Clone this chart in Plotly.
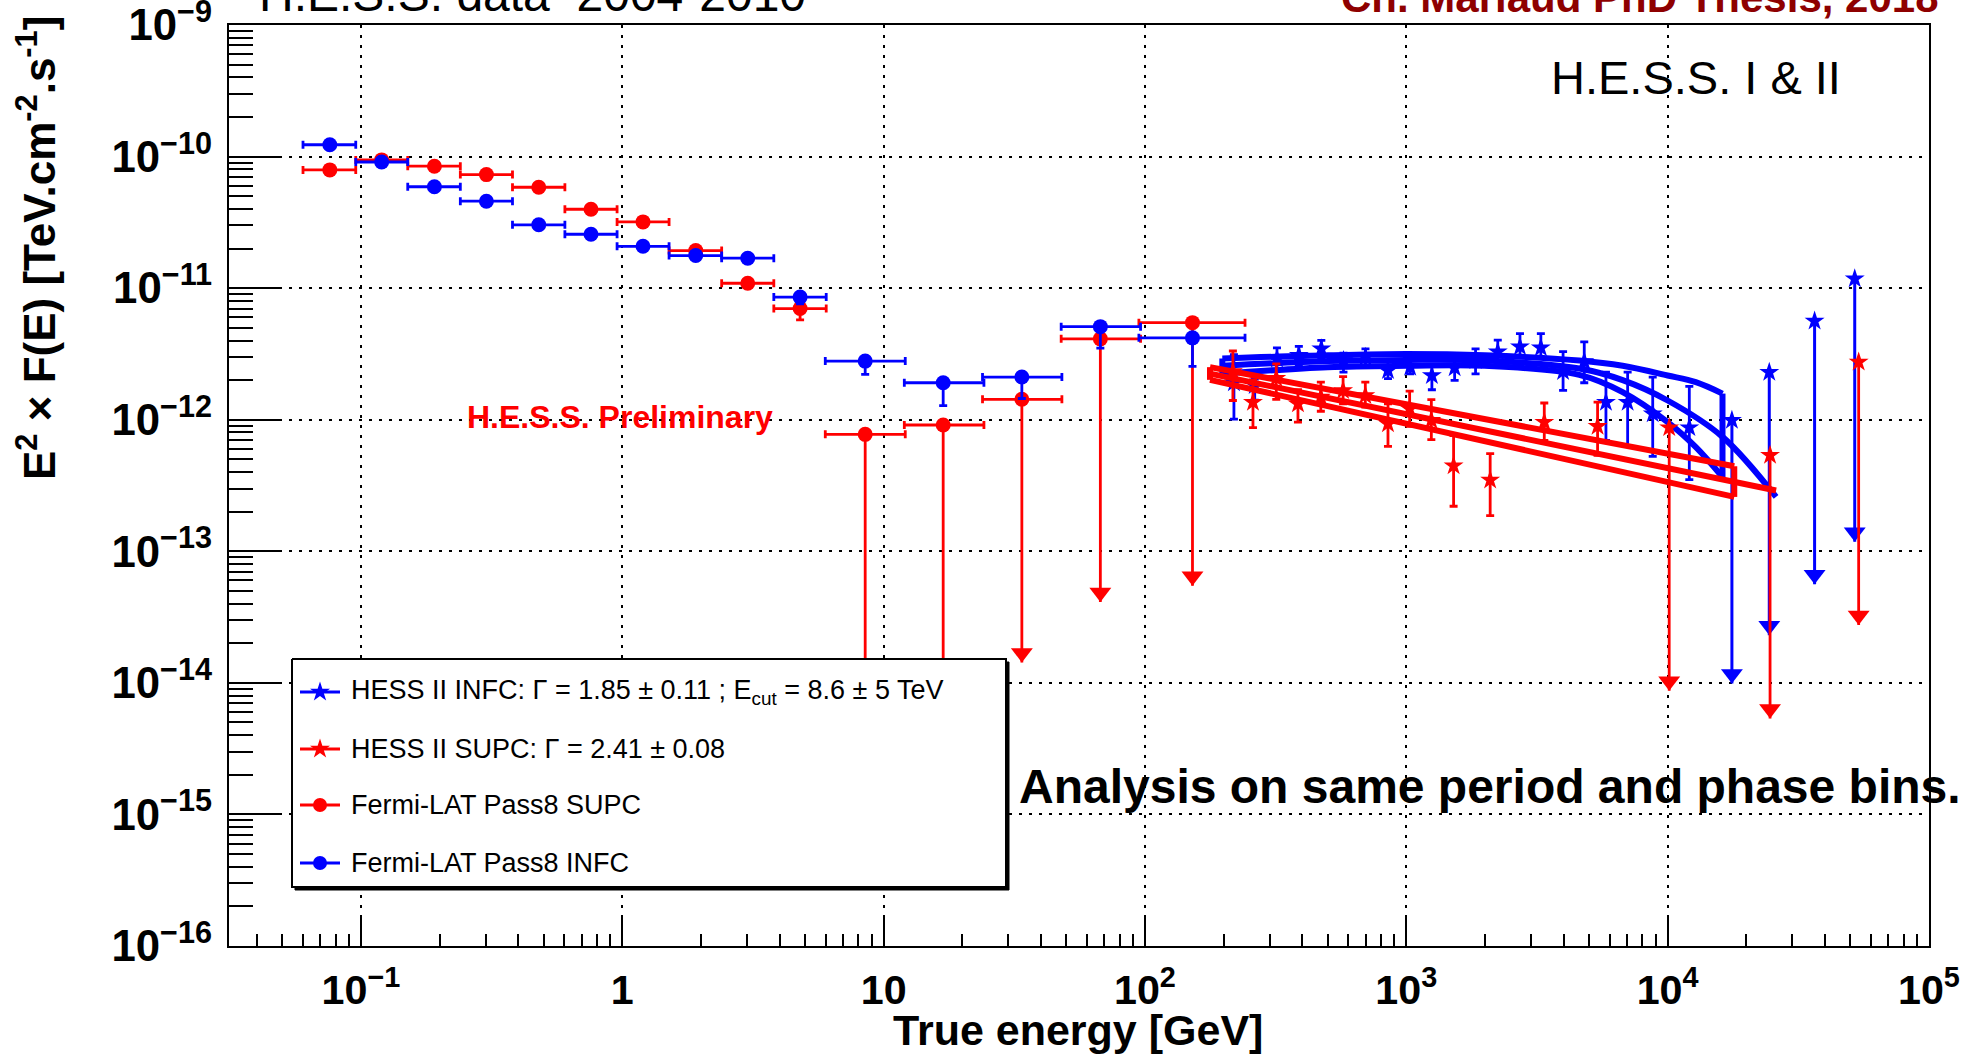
import plotly.graph_objects as go

# ---------------- data ----------------
# Fermi-LAT Pass8 (energies in GeV, E^2 F in TeV cm^-2 s^-1)
fermi_E    = [0.076, 0.120, 0.191, 0.302, 0.479, 0.759, 1.20, 1.91, 3.02, 4.79, 8.5, 16.9, 33.8, 67.5, 152.0]
fermi_E_lo = [0.060, 0.0955, 0.151, 0.240, 0.380, 0.603, 0.955, 1.51, 2.40, 3.80, 5.98, 12.0, 23.9, 47.8, 94.8]
fermi_E_hi = [0.0955, 0.151, 0.240, 0.380, 0.603, 0.955, 1.51, 2.40, 3.80, 6.03, 12.1, 24.2, 48.1, 96.2, 241.5]

fermi_infc_flux   = [1.23e-10, 9.1e-11, 5.9e-11, 4.58e-11, 3.03e-11, 2.57e-11, 2.08e-11, 1.77e-11, 1.69e-11,
                     8.55e-12, 2.79e-12, 1.91e-12, 2.11e-12, 5.1e-12, 4.19e-12]
fermi_infc_err_lo = [4e-12, 3e-12, 2e-12, 1.5e-12, 1e-12, 9e-13, 8e-13, 7e-13, 8e-13,
                     9.6e-13, 5.8e-13, 6.3e-13, 6.6e-13, 1.6e-12, 1.65e-12]
fermi_infc_err_hi = [4e-12, 3e-12, 2e-12, 1.5e-12, 1e-12, 9e-13, 8e-13, 7e-13, 8e-13,
                     5e-13, 2e-13, 1.5e-13, 1.5e-13, 3e-13, 3e-13]

fermi_supc_flux   = [7.92e-11, 9.44e-11, 8.45e-11, 7.3e-11, 5.85e-11, 3.98e-11, 3.19e-11, 1.93e-11, 1.09e-11, 7.0e-12]
fermi_supc_err_lo = [3e-12, 3e-12, 2.5e-12, 2e-12, 1.7e-12, 1.3e-12, 1.1e-12, 8e-13, 6e-13, 1.25e-12]
fermi_supc_err_hi = [3e-12, 3e-12, 2.5e-12, 2e-12, 1.7e-12, 1.3e-12, 1.1e-12, 8e-13, 6e-13, 5e-13]
fermi_supc_ul     = [7.74e-13, 9.12e-13, 1.43e-12, 4.12e-12, 5.47e-12]   # upper limits at fermi_E[10:]

# HESS II INFC (blue stars)
hess_infc_E    = [219, 263, 320, 388, 473, 575, 698, 851, 1035, 1253, 1531, 1841, 2239, 2723, 3273,
                  3981, 4797, 5808, 7031, 8770, 12106]
hess_infc_flux = [1.91e-12, 1.82e-12, 2.90e-12, 3.09e-12, 3.47e-12, 2.82e-12, 2.99e-12, 2.37e-12, 2.51e-12,
                  2.17e-12, 2.48e-12, 2.82e-12, 3.29e-12, 3.59e-12, 3.52e-12, 2.33e-12, 2.77e-12, 1.36e-12,
                  1.36e-12, 1.11e-12, 8.71e-13]
hess_infc_hi   = [3.13e-12, 2.04e-12, 3.52e-12, 3.61e-12, 4.01e-12, 3.21e-12, 3.46e-12, 2.82e-12, 3.17e-12,
                  2.63e-12, 3.03e-12, 3.46e-12, 4.03e-12, 4.52e-12, 4.52e-12, 3.29e-12, 3.91e-12, 2.30e-12,
                  2.30e-12, 2.11e-12, 1.79e-12]
hess_infc_lo   = [1.01e-12, 1.41e-12, 2.34e-12, 2.59e-12, 2.90e-12, 2.30e-12, 2.51e-12, 2.05e-12, 2.23e-12,
                  1.69e-12, 1.99e-12, 2.23e-12, 2.69e-12, 3.02e-12, 2.93e-12, 1.67e-12, 1.91e-12, 6.97e-13,
                  6.31e-13, 5.27e-13, 3.50e-13]
hess_infc_ul_E    = [17620, 24490, 36510, 52000]
hess_infc_ul_flux = [9.89e-13, 2.30e-12, 5.62e-12, 1.18e-11]

# HESS II SUPC (red stars)
hess_supc_E    = [217, 259, 318, 385, 471, 573, 697, 851, 1030, 1247, 1517, 2094, 3373, 5395]
hess_supc_flux = [2.33e-12, 1.36e-12, 2.07e-12, 1.32e-12, 1.49e-12, 1.67e-12, 1.53e-12, 9.33e-13, 1.21e-12,
                  9.89e-13, 4.47e-13, 3.48e-13, 9.59e-13, 8.91e-13]
hess_supc_hi   = [3.33e-12, 2.01e-12, 2.66e-12, 1.69e-12, 1.93e-12, 2.13e-12, 1.93e-12, 1.32e-12, 1.65e-12,
                  1.42e-12, 7.59e-13, 5.52e-13, 1.34e-12, 1.36e-12]
hess_supc_lo   = [1.40e-12, 8.71e-13, 1.43e-12, 9.59e-13, 1.16e-12, 1.32e-12, 1.25e-12, 6.27e-13, 8.91e-13,
                  7.05e-13, 2.20e-13, 1.87e-13, 6.97e-13, 5.37e-13]
hess_supc_ul_E    = [10140, 24660, 53830]
hess_supc_ul_flux = [8.71e-13, 5.37e-13, 2.75e-12]

# Fitted spectra (butterfly edges + best fit)
infc_fit_up_E    = [197.7, 501, 1000, 1995, 4592, 6730, 10000, 12823, 16218]
infc_fit_up_F    = [2.92e-12, 3.09e-12, 3.16e-12, 3.09e-12, 2.82e-12, 2.57e-12, 2.17e-12, 1.93e-12, 1.58e-12]
infc_fit_mid_E   = [197.7, 501, 1000, 1995, 4592, 6730, 10000, 16218, 26002]
infc_fit_mid_F   = [2.57e-12, 2.79e-12, 2.85e-12, 2.82e-12, 2.45e-12, 2.0e-12, 1.40e-12, 7.41e-13, 2.59e-13]
infc_fit_low_E   = [197.7, 501, 1000, 1995, 4592, 6730, 10000, 12823, 16218]
infc_fit_low_F   = [2.24e-12, 2.51e-12, 2.57e-12, 2.57e-12, 2.19e-12, 1.62e-12, 9.59e-13, 6.19e-13, 3.67e-13]

supc_fit_up_E  = [177.4, 17989]
supc_fit_up_F  = [2.51e-12, 4.43e-13]
supc_fit_mid_E = [177.4, 26002]
supc_fit_mid_F = [2.24e-12, 2.90e-13]
supc_fit_low_E = [177.4, 17989]
supc_fit_low_F = [2.01e-12, 2.59e-13]

legend_labels = ["HESS II INFC: \u0393 = 1.85 \u00b1 0.11 ; E<sub>cut</sub> = 8.6 \u00b1 5 TeV",
                 "HESS II SUPC: \u0393 = 2.41 \u00b1 0.08",
                 "Fermi-LAT Pass8 SUPC",
                 "Fermi-LAT Pass8 INFC"]

# ---------------- style ----------------
BLUE = "#0000ff"
RED = "#ff0000"
FONT = "Liberation Sans, Arial, Helvetica, sans-serif"
W, H = 1981, 1058
PL, PR, PT, PB = 229, 1929, 25, 946
PX_PER_DEC_Y = (PB - PT) / 7.0
UL_FACTOR = 0.01
ARROW_SIZE = 19
ARROW_SHIFT = 10 ** ((ARROW_SIZE / 2) / PX_PER_DEC_Y)
CIRCLE_SIZE = 15
STAR_SIZE = 15
FIT_WIDTH = 6
ERR_W = 2.8


def xp(px):
    return (px - PL) / (PR - PL)


def yp(py):
    return (PB - py) / (PB - PT)


fig = go.Figure()


def add_points(E, F, e_minus, e_plus, color, symbol, size, ex_minus=None, ex_plus=None, cap=4):
    kw = {}
    if ex_minus is not None:
        kw["error_x"] = dict(type="data", symmetric=False, array=ex_plus, arrayminus=ex_minus,
                             color=color, thickness=ERR_W, width=4)
    fig.add_trace(go.Scatter(
        x=E, y=F, mode="markers",
        marker=dict(symbol=symbol, size=size, color=color, line=dict(width=0)),
        error_y=dict(type="data", symmetric=False, array=e_plus, arrayminus=e_minus,
                     color=color, thickness=ERR_W, width=cap),
        showlegend=False, hoverinfo="skip", **kw))


def add_ul(E, F, color, width):
    xs, ys = [], []
    for e, v in zip(E, F):
        xs += [e, e, None]
        ys += [v, v * UL_FACTOR, None]
    fig.add_trace(go.Scatter(x=xs, y=ys, mode="lines", line=dict(color=color, width=width),
                             showlegend=False, hoverinfo="skip"))
    fig.add_trace(go.Scatter(x=E, y=[v * UL_FACTOR * ARROW_SHIFT for v in F], mode="markers",
                             marker=dict(symbol="triangle-down", size=ARROW_SIZE, color=color,
                                         line=dict(width=0)),
                             showlegend=False, hoverinfo="skip"))


def add_curve(E, F, color, shape="linear", width=FIT_WIDTH):
    fig.add_trace(go.Scatter(x=E, y=F, mode="lines", line=dict(color=color, width=width, shape=shape),
                             showlegend=False, hoverinfo="skip"))


# HESS INFC
add_points(hess_infc_E, hess_infc_flux,
           [v - l for v, l in zip(hess_infc_flux, hess_infc_lo)],
           [h - v for v, h in zip(hess_infc_flux, hess_infc_hi)], BLUE, "star", STAR_SIZE)
fig.add_trace(go.Scatter(x=hess_infc_ul_E, y=hess_infc_ul_flux, mode="markers",
                         marker=dict(symbol="star", size=STAR_SIZE, color=BLUE), showlegend=False,
                         hoverinfo="skip"))
add_ul(hess_infc_ul_E, hess_infc_ul_flux, BLUE, 3)

# INFC fit
add_curve(infc_fit_up_E, infc_fit_up_F, BLUE, "spline")
add_curve(infc_fit_mid_E, infc_fit_mid_F, BLUE, "spline")
add_curve(infc_fit_low_E, infc_fit_low_F, BLUE, "spline")
add_curve([infc_fit_up_E[0], infc_fit_low_E[0]], [infc_fit_up_F[0], infc_fit_low_F[0]], BLUE)
add_curve([infc_fit_up_E[-1], infc_fit_low_E[-1]], [infc_fit_up_F[-1], infc_fit_low_F[-1]], BLUE)

# HESS SUPC
add_points(hess_supc_E, hess_supc_flux,
           [v - l for v, l in zip(hess_supc_flux, hess_supc_lo)],
           [h - v for v, h in zip(hess_supc_flux, hess_supc_hi)], RED, "star", STAR_SIZE)
fig.add_trace(go.Scatter(x=hess_supc_ul_E, y=hess_supc_ul_flux, mode="markers",
                         marker=dict(symbol="star", size=STAR_SIZE, color=RED), showlegend=False,
                         hoverinfo="skip"))
add_ul(hess_supc_ul_E, hess_supc_ul_flux, RED, 2.8)

# SUPC fit
add_curve(supc_fit_up_E, supc_fit_up_F, RED)
add_curve(supc_fit_mid_E, supc_fit_mid_F, RED)
add_curve(supc_fit_low_E, supc_fit_low_F, RED)
add_curve([supc_fit_up_E[0], supc_fit_low_E[0]], [supc_fit_up_F[0], supc_fit_low_F[0]], RED)
add_curve([supc_fit_up_E[-1], supc_fit_low_E[-1]], [supc_fit_up_F[-1], supc_fit_low_F[-1]], RED)

# Fermi SUPC
n_pts = len(fermi_supc_flux)
ex_minus = [e - lo for e, lo in zip(fermi_E, fermi_E_lo)]
ex_plus = [hi - e for e, hi in zip(fermi_E, fermi_E_hi)]
add_points(fermi_E[:n_pts], fermi_supc_flux, fermi_supc_err_lo, fermi_supc_err_hi, RED, "circle", CIRCLE_SIZE,
           ex_minus[:n_pts], ex_plus[:n_pts])
fig.add_trace(go.Scatter(x=fermi_E[n_pts:], y=fermi_supc_ul, mode="markers",
                         marker=dict(symbol="circle", size=CIRCLE_SIZE, color=RED),
                         error_x=dict(type="data", symmetric=False, array=ex_plus[n_pts:],
                                      arrayminus=ex_minus[n_pts:], color=RED, thickness=ERR_W, width=4),
                         showlegend=False, hoverinfo="skip"))
add_ul(fermi_E[n_pts:], fermi_supc_ul, RED, 2.8)

# Fermi INFC
add_points(fermi_E, fermi_infc_flux, fermi_infc_err_lo, fermi_infc_err_hi, BLUE, "circle", CIRCLE_SIZE,
           ex_minus, ex_plus)

# ---------------- legend box (drawn on an overlay axis pair) ----------------
LB_L, LB_R, LB_T, LB_B = 292, 1006, 659, 887
SHADOW = 3
legend_rows_py = [692, 749, 805, 863]
legend_colors = [BLUE, RED, RED, BLUE]
legend_symbols = ["star", "star", "circle", "circle"]
legend_msize = [15, 15, 14, 14]


def box(l, r, t, b):
    return [xp(l), xp(r), xp(r), xp(l), xp(l)], [yp(t), yp(t), yp(b), yp(b), yp(t)]


bx, by = box(LB_L + SHADOW, LB_R + SHADOW, LB_T + SHADOW, LB_B + SHADOW)
fig.add_trace(go.Scatter(x=bx, y=by, xaxis="x2", yaxis="y2", mode="lines", fill="toself",
                         fillcolor="black", line=dict(color="black", width=1),
                         showlegend=False, hoverinfo="skip"))
bx, by = box(LB_L, LB_R, LB_T, LB_B)
fig.add_trace(go.Scatter(x=bx, y=by, xaxis="x2", yaxis="y2", mode="lines", fill="toself",
                         fillcolor="white", line=dict(color="black", width=2),
                         showlegend=False, hoverinfo="skip"))
for py, col, sym, ms in zip(legend_rows_py, legend_colors, legend_symbols, legend_msize):
    fig.add_trace(go.Scatter(x=[xp(300), xp(340)], y=[yp(py), yp(py)], xaxis="x2", yaxis="y2",
                             mode="lines", line=dict(color=col, width=2.8),
                             showlegend=False, hoverinfo="skip"))
    fig.add_trace(go.Scatter(x=[xp(320)], y=[yp(py)], xaxis="x2", yaxis="y2", mode="markers",
                             marker=dict(symbol=sym, size=ms, color=col),
                             showlegend=False, hoverinfo="skip"))

annotations = []
for py, txt in zip(legend_rows_py, legend_labels):
    annotations.append(dict(x=xp(349), y=yp(py), xref="paper", yref="paper", xanchor="left", yanchor="middle",
                            text=txt, showarrow=False, font=dict(family=FONT, size=27, color="black")))

annotations += [
    dict(x=xp(257), y=yp(-5), xref="paper", yref="paper", xanchor="left", yanchor="middle",
         text="H.E.S.S. data  2004-2010", showarrow=False,
         font=dict(family=FONT, size=48, color="black")),
    dict(x=xp(1941), y=yp(-2), xref="paper", yref="paper", xanchor="right", yanchor="middle",
         text="Ch. Mariaud PhD Thesis, 2018", showarrow=False,
         font=dict(family=FONT, size=42, color="#8e0000", weight="bold")),
    dict(x=xp(1549), y=yp(77), xref="paper", yref="paper", xanchor="left", yanchor="middle",
         text="H.E.S.S. I &amp; II", showarrow=False,
         font=dict(family=FONT, size=47, color="black")),
    dict(x=xp(465), y=yp(417), xref="paper", yref="paper", xanchor="left", yanchor="middle",
         text="H.E.S.S. Preliminary", showarrow=False,
         font=dict(family=FONT, size=32, color=RED, weight="bold")),
    dict(x=xp(1017), y=yp(786), xref="paper", yref="paper", xanchor="left", yanchor="middle",
         text="Analysis on same period and phase bins.", showarrow=False,
         font=dict(family=FONT, size=48, color="black", weight="bold")),
    dict(x=xp(1078), y=yp(1030), xref="paper", yref="paper", xanchor="center", yanchor="middle",
         text="True energy [GeV]", showarrow=False,
         font=dict(family=FONT, size=43, color="black", weight="bold")),
    dict(x=xp(36), y=yp(248), xref="paper", yref="paper", xanchor="center", yanchor="middle",
         text="E<sup>2</sup> \u00d7 F(E) [TeV.cm<sup>-2</sup>.s<sup>-1</sup>]", showarrow=False, textangle=-90,
         font=dict(family=FONT, size=44, color="black", weight="bold")),
]

axis_common = dict(type="log", dtick=1, exponentformat="power", showgrid=True, gridcolor="black",
                   gridwidth=2, griddash="3px,7px", tickcolor="black", tickwidth=2, ticks="inside",
                   showline=True, linewidth=2, linecolor="black", mirror=True, zeroline=False,
                   ticklabeloverflow="allow", automargin=False)

fig.update_xaxes(range=[-1.505, 5.0002], ticklen=28,
                 minor=dict(ticks="inside", ticklen=12, tickwidth=2, tickcolor="black", dtick="D1",
                            showgrid=False),
                 tickfont=dict(family=FONT, size=33, color="black", weight="bold"),
                 ticklabelstandoff=8, **axis_common)
fig.update_yaxes(range=[-16, -8.9998], ticklen=52,
                 minor=dict(ticks="inside", ticklen=24, tickwidth=2, tickcolor="black", dtick="D1",
                            showgrid=False),
                 tickfont=dict(family=FONT, size=35, color="black", weight="bold"),
                 ticklabelstandoff=8, **axis_common)

fig.update_layout(
    width=W, height=H,
    margin=dict(l=PL, r=W - PR, t=PT, b=H - PB, pad=0, autoexpand=False),
    paper_bgcolor="white", plot_bgcolor="white",
    showlegend=False,
    xaxis2=dict(overlaying="x", range=[0, 1], visible=False, fixedrange=True),
    yaxis2=dict(overlaying="y", range=[0, 1], visible=False, fixedrange=True),
    annotations=annotations,
)

fig.write_html("out.html")
